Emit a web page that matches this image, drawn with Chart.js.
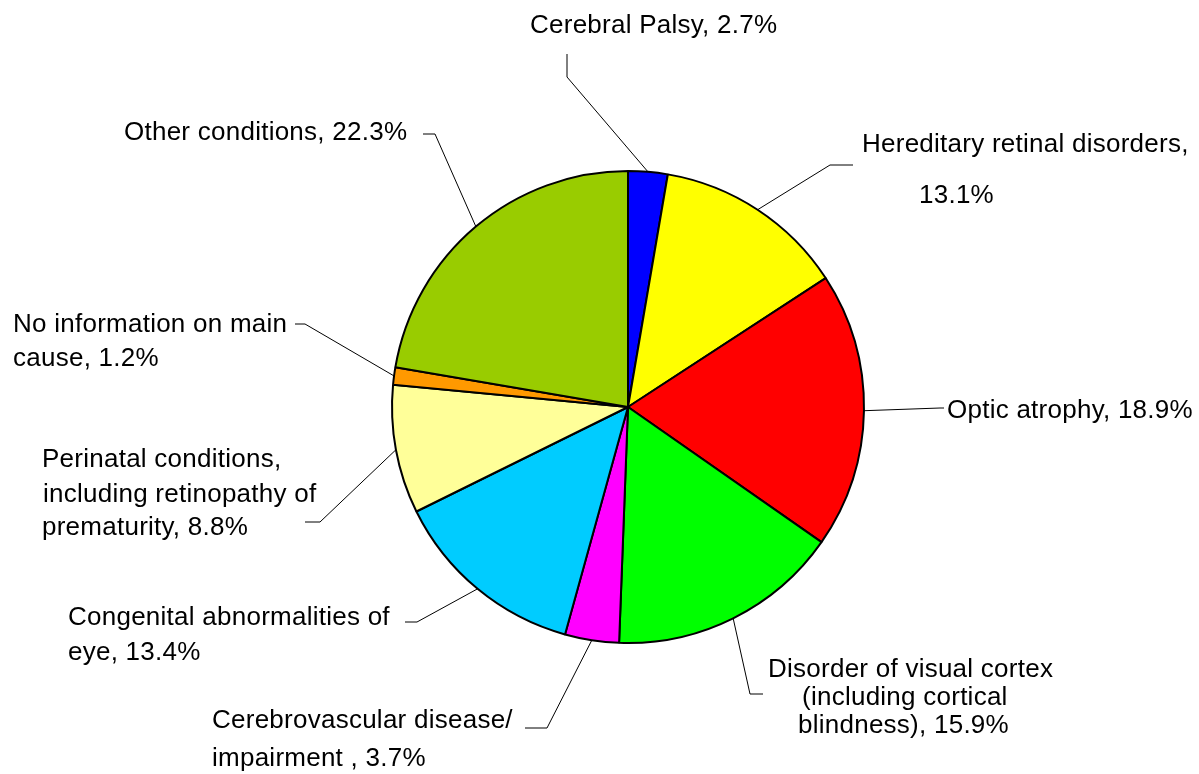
<!DOCTYPE html>
<html>
<head>
<meta charset="utf-8">
<script src="https://cdn.jsdelivr.net/npm/chart.js@4/dist/chart.umd.min.js"></script>
<style>
  html, body { margin: 0; padding: 0; background: #fff; }
  #wrap { width: 1199px; height: 774px; position: relative; }
</style>
</head>
<body>
<div id="wrap"><canvas id="grafico" width="1199" height="774"></canvas></div>
<script>
// datos del gráfico (orden horario desde arriba)
const categorias = [
  'Cerebral Palsy',
  'Hereditary retinal disorders',
  'Optic atrophy',
  'Disorder of visual cortex (including cortical blindness)',
  'Cerebrovascular disease/ impairment',
  'Congenital abnormalities of eye',
  'Perinatal conditions, including retinopathy of prematurity',
  'No information on main cause',
  'Other conditions'
];
const porcentajes = [2.7, 13.1, 18.9, 15.9, 3.7, 13.4, 8.8, 1.2, 22.3];
const colores = ['#0000FF', '#FFFF00', '#FF0000', '#00FF00', '#FF00FF', '#00CCFF', '#FFFF99', '#FF9900', '#99CC00'];

// texto de cada etiqueta, por líneas
const etiquetas = [
  ['Cerebral Palsy, 2.7%'],
  ['Hereditary retinal disorders,', '13.1%'],
  ['Optic atrophy, 18.9%'],
  ['Disorder of visual cortex', '(including cortical', 'blindness), 15.9%'],
  ['Cerebrovascular disease/', 'impairment , 3.7%'],
  ['Congenital abnormalities of', 'eye, 13.4%'],
  ['Perinatal conditions,', 'including retinopathy of', 'prematurity, 8.8%'],
  ['No information on main', 'cause, 1.2%'],
  ['Other conditions, 22.3%']
];

// posición de las etiquetas y de las líneas guía (solo maquetación)
const posEtiquetas = [
  { lines: [[530, 33]], bend: [567, 77], end: [567, 54] },
  { lines: [[862, 152], [919, 203]], bend: [830, 165], end: [853, 165] },
  { lines: [[947, 418]], bend: [940, 408], end: [944, 408] },
  { lines: [[768, 677], [802, 705], [798, 733]], bend: [750, 694], end: [763, 694] },
  { lines: [[212, 728], [212, 766]], bend: [547, 728], end: [525, 728] },
  { lines: [[68, 625], [68, 660]], bend: [417, 622], end: [405, 622] },
  { lines: [[42, 467], [43, 502], [42, 535]], bend: [320, 522], end: [305, 522] },
  { lines: [[13, 332], [13, 366]], bend: [305, 324], end: [295, 324] },
  { lines: [[124, 140]], bend: [435, 134], end: [423, 134] }
];

const etiquetasPlugin = {
  id: 'etiquetas',
  afterDraw(chart) {
    const ctx = chart.ctx;
    const arcos = chart.getDatasetMeta(0).data;
    ctx.save();
    ctx.strokeStyle = '#000';
    ctx.lineWidth = 1;
    arcos.forEach((arc, i) => {
      const p = posEtiquetas[i];
      const mid = (arc.startAngle + arc.endAngle) / 2;
      const ax = arc.x + Math.cos(mid) * arc.outerRadius;
      const ay = arc.y + Math.sin(mid) * arc.outerRadius;
      ctx.beginPath();
      ctx.moveTo(ax, ay);
      ctx.lineTo(p.bend[0], p.bend[1]);
      ctx.lineTo(p.end[0], p.end[1]);
      ctx.stroke();
    });
    ctx.fillStyle = '#000';
    ctx.font = '26px "Liberation Sans", Arial, sans-serif';
    ctx.letterSpacing = '0.25px';
    ctx.textAlign = 'left';
    ctx.textBaseline = 'alphabetic';
    etiquetas.forEach((lineas, i) => {
      lineas.forEach((t, j) => {
        const [x, y] = posEtiquetas[i].lines[j];
        ctx.fillText(t, x, y);
      });
    });
    ctx.restore();
  }
};

new Chart(document.getElementById('grafico'), {
  type: 'pie',
  data: {
    labels: categorias,
    datasets: [{
      data: porcentajes,
      backgroundColor: colores,
      borderColor: '#000',
      borderWidth: 2,
      hoverOffset: 0
    }]
  },
  options: {
    responsive: false,
    animation: false,
    layout: { padding: { left: 391, right: 334, top: 170, bottom: 130 } },
    plugins: {
      legend: { display: false },
      tooltip: { enabled: false }
    }
  },
  plugins: [etiquetasPlugin]
});
</script>
</body>
</html>
